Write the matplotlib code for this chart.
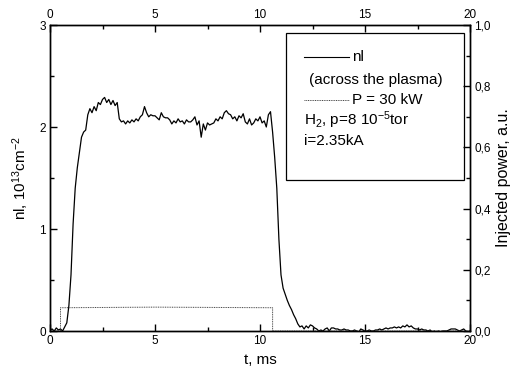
import numpy as np
import matplotlib
matplotlib.use('Agg')
import matplotlib.pyplot as plt
from matplotlib.ticker import MultipleLocator, FuncFormatter
from matplotlib.patches import Rectangle

plt.rcParams['font.family'] = ['Liberation Sans', 'DejaVu Sans']
plt.rcParams['mathtext.default'] = 'regular'

# ==============================
# Data
# ==============================

# line-integrated density nl, 1e13 cm^-2, sampled every 0.1 ms from 0 to 20 ms
t_ms = np.arange(201) / 10.0
nl = [
    0.01, 0.02, 0.00, 0.03, 0.01, 0.02, 0.00, 0.04, 0.08, 0.25,
    0.55, 1.05, 1.40, 1.60, 1.75, 1.90, 1.95, 1.97, 2.12, 2.18,
    2.14, 2.20, 2.16, 2.24, 2.22, 2.27, 2.29, 2.24, 2.27, 2.22,
    2.26, 2.21, 2.24, 2.08, 2.05, 2.06, 2.03, 2.06, 2.04, 2.07,
    2.05, 2.08, 2.06, 2.10, 2.12, 2.20, 2.14, 2.10, 2.12, 2.11,
    2.11, 2.09, 2.07, 2.14, 2.10, 2.09, 2.09, 2.07, 2.03, 2.06,
    2.04, 2.08, 2.05, 2.06, 2.03, 2.07, 2.05, 2.05, 2.07, 2.10,
    2.02, 2.06, 1.90, 2.03, 1.97, 2.04, 2.02, 2.03, 2.04, 2.08,
    2.06, 2.10, 2.08, 2.14, 2.16, 2.13, 2.12, 2.08, 2.10, 2.06,
    2.11, 2.09, 2.13, 2.05, 2.03, 2.08, 2.02, 2.04, 2.08, 2.06,
    2.10, 2.04, 2.06, 2.00, 2.12, 2.15, 1.95, 1.70, 1.40, 0.90,
    0.55, 0.42, 0.36, 0.30, 0.25, 0.21, 0.16, 0.12, 0.07, 0.04,
    0.05, 0.02, 0.05, 0.03, 0.06, 0.05, 0.03, 0.02, 0.00, 0.01,
    0.00, 0.02, 0.03, 0.00, 0.03, 0.03, 0.02, 0.02, 0.01, 0.01,
    0.02, 0.01, 0.01, 0.00, 0.00, 0.01, 0.00, -0.01, 0.02, 0.01,
    0.00, 0.00, 0.01, 0.00, 0.00, 0.01, 0.01, 0.02, 0.01, 0.02,
    0.03, 0.02, 0.03, 0.03, 0.04, 0.03, 0.04, 0.03, 0.05, 0.04,
    0.06, 0.04, 0.05, 0.03, 0.02, 0.02, 0.01, 0.02, 0.01, 0.01,
    0.00, 0.01, -0.01, 0.00, -0.01, 0.00, -0.01, 0.00, 0.00, 0.00,
    0.01, 0.02, 0.02, 0.02, 0.01, 0.00, 0.01, 0.02, 0.00, -0.01,
    0.00,
]

# injected power pulse, a.u.
t_power = [0.0, 0.5, 0.5, 5.0, 10.6, 10.6, 20.0]
power = [0.0, 0.0, 0.076, 0.078, 0.076, 0.0, 0.0]

x_ticks = [0, 5, 10, 15, 20]
nl_ticks = [0, 1, 2, 3]
power_ticks = [0.0, 0.2, 0.4, 0.6, 0.8, 1.0]

# ==============================
# Plot
# ==============================

fig = plt.figure(figsize=(5.15, 3.76), dpi=100)
ax = fig.add_axes([50 / 515, 45 / 376, 420 / 515, 306 / 376])
ax2 = ax.twinx()

ax.plot(t_ms, nl, color='black', lw=0.9)
ax2.plot(t_power, power, color='#444444', lw=0.7, ls=(0, (1, 0.8)))

ax.set_xlim(0, 20)
ax.set_ylim(0, 3)
ax2.set_ylim(0, 1)
ax.set_xticks(x_ticks)
ax.set_yticks(nl_ticks)
ax2.set_yticks(power_ticks)
ax.xaxis.set_minor_locator(MultipleLocator(2.5))
ax.yaxis.set_minor_locator(MultipleLocator(0.5))
ax2.yaxis.set_minor_locator(MultipleLocator(0.1))
ax2.yaxis.set_major_formatter(FuncFormatter(lambda v, p: ('%.1f' % v).replace('.', ',')))

ax.tick_params(which='both', direction='in', top=True, labeltop=True, right=False,
               labelsize=8.5, width=1, pad=3)
ax.tick_params(which='major', length=5)
ax.tick_params(which='minor', length=3)
ax2.tick_params(which='both', direction='in', labelsize=8.5, width=1, pad=3)
ax2.tick_params(which='major', length=5)
ax2.tick_params(which='minor', length=3)
for a in (ax, ax2):
    for s in a.spines.values():
        s.set_linewidth(1)

ax.set_xlabel('t, ms', fontsize=11, labelpad=4)
ax.set_ylabel('nl, 10$^{13}$cm$^{-2}$', fontsize=11, labelpad=6)
ax2.set_ylabel('Injected power, a.u.', fontsize=11.5, labelpad=4)

# legend box drawn by hand to keep the original layout
ax.add_patch(Rectangle((0.562, 0.493), 0.424, 0.481, transform=ax.transAxes,
                       fill=False, ec='black', lw=0.9, zorder=5))
fs = 11
ax.plot([0.605, 0.712], [0.897, 0.897], transform=ax.transAxes, color='black', lw=0.8)
ax.text(0.72, 0.897, 'nl', transform=ax.transAxes, fontsize=fs, va='center')
ax.text(0.617, 0.82, '(across the plasma)', transform=ax.transAxes, fontsize=fs, va='center')
ax.plot([0.605, 0.712], [0.755, 0.755], transform=ax.transAxes, color='#444444', lw=0.7,
        ls=(0, (1, 0.8)))
ax.text(0.72, 0.755, 'P = 30 kW', transform=ax.transAxes, fontsize=fs, va='center')
ax.text(0.605, 0.69, 'H$_2$, p=8 10$^{-5}$tor', transform=ax.transAxes, fontsize=fs, va='center')
ax.text(0.605, 0.621, 'i=2.35kA', transform=ax.transAxes, fontsize=fs, va='center')

fig.savefig('out.png', dpi=100)
